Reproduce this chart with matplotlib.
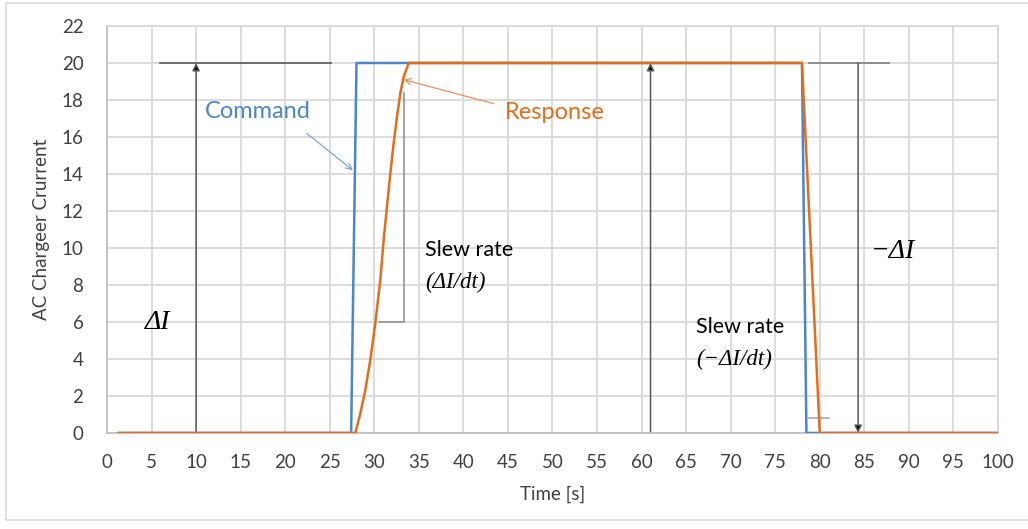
import matplotlib
matplotlib.use("Agg")
import matplotlib.pyplot as plt
from matplotlib.patches import Rectangle

# Command and response current traces (time in s, current in A)
time_cmd = [1.3, 27.4, 28.0, 78.0, 78.5, 99.8]
command = [0, 0, 20, 20, 0, 0]

time_resp = [1.3, 27.87, 28.43, 28.99, 29.55, 30.11, 30.67, 31.05, 31.42, 31.80,
             32.17, 32.55, 32.92, 33.30, 33.86, 78.0, 80.0, 99.8]
response = [0, 0, 1.06, 2.32, 3.95, 5.93, 8.27, 10.43, 12.23, 14.04,
            15.66, 17.10, 18.36, 19.26, 20, 20, 0, 0]

x_ticks = list(range(0, 101, 5))
y_ticks = list(range(0, 23, 2))

SANS = ["Lato", "DejaVu Sans"]
SERIF = ["Liberation Serif", "DejaVu Serif"]
BLUE = "#4A86C8"
ORANGE = "#E46C1A"
TXT = "#404040"

plt.rcParams["font.family"] = SANS

fig = plt.figure(figsize=(10.28, 5.29), dpi=100)
fig.patches.append(Rectangle((0.0058, 0.017), 1.0, 0.977, transform=fig.transFigure,
                             fill=False, edgecolor="#d9d9d9", linewidth=1.2))
ax = fig.add_axes([0.1041, 0.1815, 0.8667, 0.7694])

ax.set_xlim(0, 100)
ax.set_ylim(0, 22)
ax.set_xticks(x_ticks)
ax.set_yticks(y_ticks)
ax.tick_params(length=0, labelsize=13.5, colors=TXT)
ax.tick_params(axis="x", pad=15)
ax.tick_params(axis="y", pad=17)
ax.grid(True, color="#d9d9d9", linewidth=1.3)
ax.set_axisbelow(True)
for side in ("top", "right"):
    ax.spines[side].set_color("#d9d9d9")
    ax.spines[side].set_linewidth(1.3)
for side in ("left", "bottom"):
    ax.spines[side].set_color("#bfbfbf")
    ax.spines[side].set_linewidth(1.3)

ax.set_xlabel("Time [s]", fontsize=13.5, color=TXT, labelpad=11)
ax.set_ylabel("AC Chargeer Crurrent", fontsize=13.5, color=TXT, labelpad=8)

# Traces
ax.plot(time_cmd, command, color=BLUE, linewidth=1.8, zorder=3)
ax.plot(time_resp, response, color=ORANGE, linewidth=1.8, zorder=4)

# Reference levels
ax.plot([6.0, 25.1], [20, 20], color="#595959", linewidth=1.2, zorder=2)
ax.plot([78.8, 87.8], [20, 20], color="#7f7f7f", linewidth=1.2, zorder=2)

# Step-height arrows
arrow_kw = dict(arrowstyle="-|>", mutation_scale=11, shrinkA=0, shrinkB=0,
                ec="#595959", fc="black", lw=1.1)
ax.annotate("", xy=(10.0, 20), xytext=(10.0, 0), arrowprops=arrow_kw, zorder=2)
ax.annotate("", xy=(61.0, 20), xytext=(61.0, 0), arrowprops=arrow_kw, zorder=2)
ax.annotate("", xy=(84.3, 0), xytext=(84.3, 20), arrowprops=arrow_kw, zorder=2)

# Slew-rate brackets
ax.plot([30.6, 33.3, 33.3], [6.0, 6.0, 18.4], color="#8c8c8c", linewidth=1.1, zorder=2)
ax.plot([78.8, 81.0], [0.8, 0.8], color="#a6a6a6", linewidth=1.1, zorder=2)

# Series labels with pointers
ax.text(11.0, 17.4, "Command", color=BLUE, fontsize=17, ha="left", va="center")
ax.annotate("", xy=(27.6, 14.2), xytext=(22.4, 16.2),
            arrowprops=dict(arrowstyle="->", color="#7aa6d8", lw=0.9,
                            shrinkA=0, shrinkB=0, mutation_scale=11), zorder=5)
ax.text(44.7, 17.3, "Response", color=ORANGE, fontsize=17, ha="left", va="center")
ax.annotate("", xy=(33.3, 19.1), xytext=(43.4, 17.8),
            arrowprops=dict(arrowstyle="->", color="#ec915a", lw=0.9,
                            shrinkA=0, shrinkB=0, mutation_scale=11), zorder=5)

# Annotation text
serif_kw = dict(family=SERIF, style="italic", color="black", ha="left", va="center")
ax.text(4.2, 5.95, "\u0394I", fontsize=20, **serif_kw)
ax.text(85.7, 9.8, "\u2212\u0394I", fontsize=20, **serif_kw)

ax.text(35.7, 9.9, "Slew rate", fontsize=15.5, ha="left", va="center", color="black")
ax.text(35.7, 8.15, "(\u0394I/dt)", fontsize=16.5, **serif_kw)
ax.text(66.1, 5.75, "Slew rate", fontsize=15.5, ha="left", va="center", color="black")
ax.text(66.1, 3.95, "(\u2212\u0394I/dt)", fontsize=16.5, **serif_kw)

fig.savefig("out.png", dpi=100)
